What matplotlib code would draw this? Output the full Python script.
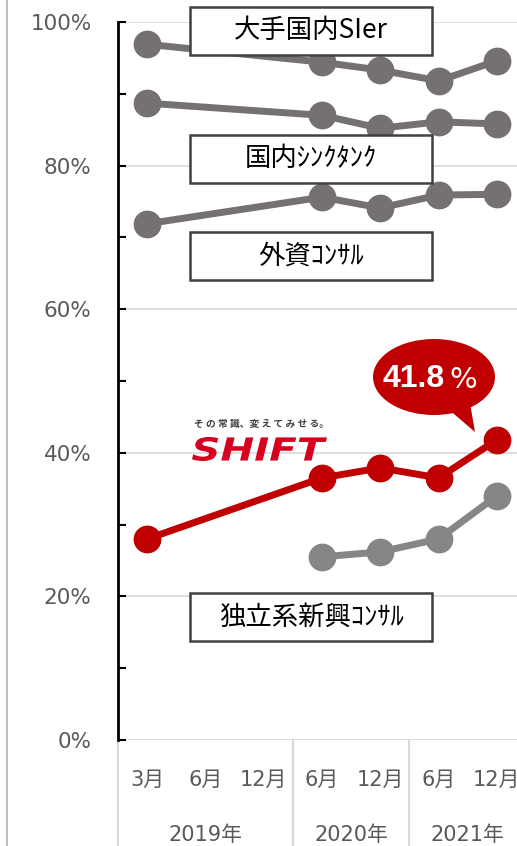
import numpy as np
import matplotlib
matplotlib.use('Agg')
import matplotlib.pyplot as plt
from matplotlib.patches import Ellipse, Polygon, PathPatch
from matplotlib.textpath import TextPath
from matplotlib.font_manager import FontProperties
from matplotlib.transforms import Affine2D

plt.rcParams['font.family'] = ['DejaVu Sans', 'Noto Sans CJK JP']

# === データ ===
months = ['3月', '6月', '12月', '6月', '12月', '6月', '12月']
years = ['2019年', '2020年', '2021年']
year_groups = [3, 2, 2]
nan = np.nan
sier = [96.9, nan, nan, 94.4, 93.3, 91.8, 94.6]
think = [88.7, nan, nan, 87.0, 85.2, 86.1, 85.8]
gaishi = [71.9, nan, nan, 75.6, 74.1, 75.9, 76.0]
shift = [28.0, nan, nan, 36.5, 37.9, 36.5, 41.8]
dokuritsu = [nan, nan, nan, 25.5, 26.2, 28.0, 34.0]

W, H = 517, 846
fig = plt.figure(figsize=(W / 100, H / 100), dpi=100)
x0, x1, ytop, ybot = 118, 526, 22, 740
ax = fig.add_axes([x0 / W, 1 - ybot / H, (x1 - x0) / W, (ybot - ytop) / H])
ax.set_xlim(-0.5, 6.5)
ax.set_ylim(0, 100)

x = np.arange(len(months))

def draw(vals, color, z):
    v = np.array(vals, dtype=float)
    m = ~np.isnan(v)
    ax.plot(x[m], v[m], color=color, lw=5, marker='o', ms=19,
            solid_capstyle='round', zorder=z, clip_on=False)

draw(sier, '#767171', 3)
draw(think, '#767171', 3)
draw(gaishi, '#767171', 3)
draw(dokuritsu, '#868686', 3)
draw(shift, '#C00000', 4)

# グリッド・軸
ax.set_yticks(np.arange(0, 101, 20))
ax.set_yticks(np.arange(10, 100, 20), minor=True)
ax.set_yticklabels([f'{v}%' for v in range(0, 101, 20)])
ax.grid(axis='y', color='#D9D9D9', lw=1.2, zorder=0)
ax.tick_params(axis='y', which='both', direction='in', length=6, width=1.5,
               color='black', labelsize=15.5, labelcolor='#595959', pad=19)
ax.set_xticks([])
for s in ['top', 'right', 'bottom']:
    ax.spines[s].set_visible(False)
ax.spines['left'].set_linewidth(2)
ax.spines['left'].set_zorder(5)

# x 軸ラベル(月・年)
for i, m in enumerate(months):
    ax.text(i, -5.5, m, ha='center', va='center', fontsize=15,
            color='#595959', clip_on=False)
start = 0
for yr, n in zip(years, year_groups):
    ax.text(start + (n - 1) / 2, -13.3, yr, ha='center', va='center',
            fontsize=15, color='#595959', clip_on=False)
    start += n
for b in [-0.5, 2.5, 4.5]:
    ax.plot([b, b], [0, -16], color='#D9D9D9', lw=1.5, clip_on=False, zorder=1)
fig.add_artist(plt.Line2D([7 / W, 7 / W], [0, 1], color='#BFBFBF', lw=1.5))

# ラベルボックス
def label_box(label, yc):
    bx = plt.Rectangle((190 / W, 1 - (yc + 24) / H), 242 / W, 48 / H,
                       transform=fig.transFigure, fc='white', ec='#404040',
                       lw=1.8, zorder=10)
    fig.add_artist(bx)
    fig.text(311 / W, 1 - yc / H, label, ha='center', va='center',
             fontsize=19, color='black', zorder=11,
             family=['Noto Sans CJK JP', 'DejaVu Sans'])

label_box('大手国内SIer', 31)
label_box('国内ｼﾝｸﾀﾝｸ', 159)
label_box('外資ｺﾝｻﾙ', 256)
label_box('独立系新興ｺﾝｻﾙ', 617)

# 吹き出し 41.8%
ell = Ellipse((434 / W, 1 - 377 / H), 122 / W, 76 / H, transform=fig.transFigure,
              fc='#C00000', ec='none', zorder=8)
fig.add_artist(ell)
tail = Polygon([(447 / W, 1 - 408 / H), (470 / W, 1 - 403 / H), (475 / W, 1 - 432 / H)],
               closed=True, transform=fig.transFigure, fc='#C00000', ec='none', zorder=8)
fig.add_artist(tail)
fig.text(445 / W, 1 - 379 / H, '41.8', ha='right', va='center', fontsize=23,
         fontweight='bold', color='white', zorder=9, family='Liberation Sans')
fig.text(449 / W, 1 - 380 / H, '%', ha='left', va='center', fontsize=21,
         color='white', zorder=9)

# SHIFT ロゴ
fig.text(262 / W, 1 - 424 / H, 'そ の 常 識、変 え て み せ る。', ha='center', va='center',
         fontsize=7, color='#404040', fontweight='bold',
         family=['Noto Sans CJK JP'])
tp = TextPath((0, 0), 'SHIFT', size=1,
              prop=FontProperties(family='DejaVu Sans', weight='bold', style='italic'))
bb = tp.get_extents()
sx = 135 / bb.width
sy = 24 / bb.height
tr = (Affine2D().translate(-bb.x0, -bb.y0).scale(sx / W, sy / H)
      .translate(192 / W, 1 - 461 / H) + fig.transFigure)
fig.add_artist(PathPatch(tp, transform=tr, fc='#D7001E', ec='none', zorder=6))

fig.savefig('out.png', dpi=100)
